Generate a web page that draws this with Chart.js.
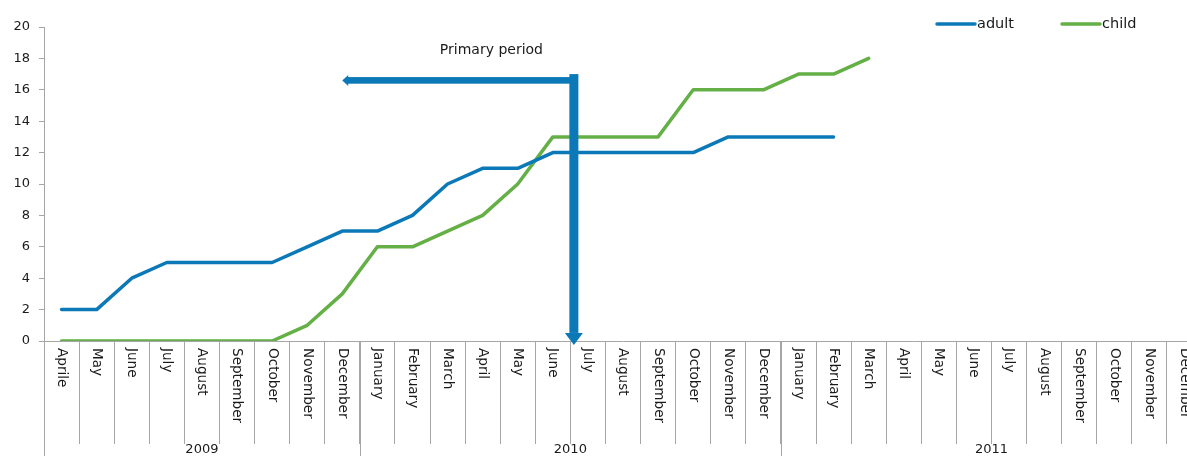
<!DOCTYPE html>
<html>
<head>
<meta charset="utf-8">
<style>
  html, body { margin: 0; padding: 0; overflow: hidden; background: #fff; }
  #wrap { position: relative; width: 1202px; height: 456px; }
</style>
</head>
<body>
<div id="wrap"><canvas id="myChart"></canvas></div>

<script src="https://cdn.jsdelivr.net/npm/chart.js@4.4.0/dist/chart.umd.min.js"></script>
<script>
    // month categories, April 2009 to December 2011
    const months = [
        'Aprile', 'May', 'June', 'July', 'August', 'September', 'October', 'November', 'December',
        'January', 'February', 'March', 'April', 'May', 'June', 'July', 'August', 'September', 'October', 'November', 'December',
        'January', 'February', 'March', 'April', 'May', 'June', 'July', 'August', 'September', 'October', 'November', 'December'
    ];
    const years = ['2009', '2010', '2011'];
    const monthsPerYear = [9, 12, 12];

    // cumulative counts
    const adult = [2, 2, 4, 5, 5, 5, 5, 6, 7, 7, 8, 10, 11, 11, 12, 12, 12, 12, 12, 13, 13, 13, 13];
    const child = [0, 0, 0, 0, 0, 0, 0, 1, 3, 6, 6, 7, 8, 10, 13, 13, 13, 13, 16, 16, 16, 17, 17, 18];

    // primary period marker (x in month index, y in count units)
    const periodLabel = 'Primary period';
    const periodFrom = 8;       // December 2009
    const periodTo = 14.6;      // end of June 2010
    const periodLevel = 16.6;
    const periodTop = 17.0;
    const periodBottom = -0.25;
    const periodLabelPos = [12.25, 18.5];

    const blue = '#0b79b8';
    const green = '#64b046';
    const axisGrey = '#a6a6a6';
    const textColor = '#1a1a1a';
    const fontFamily = '"DejaVu Sans", Verdana, sans-serif';

    const decorations = {
        id: 'decorations',
        afterDatasetsDraw(chart) {
            const {ctx, scales: {x, y}} = chart;
            const xl = x.getPixelForValue(periodTo);
            const xr = x.getPixelForValue(periodFrom);
            const yl = y.getPixelForValue(periodLevel);
            const yt = y.getPixelForValue(periodTop);
            const yb = y.getPixelForValue(periodBottom);

            ctx.save();
            ctx.fillStyle = blue;
            // horizontal arrow pointing left
            ctx.fillRect(xr + 5, yl - 3.3, xl - xr - 5, 6.6);
            ctx.beginPath();
            ctx.moveTo(xr, yl);
            ctx.lineTo(xr + 6, yl - 5.5);
            ctx.lineTo(xr + 6, yl + 5.5);
            ctx.closePath();
            ctx.fill();
            // vertical arrow pointing down
            ctx.fillRect(xl - 4.5, yt, 9, yb - yt - 12);
            ctx.beginPath();
            ctx.moveTo(xl - 9, yb - 12);
            ctx.lineTo(xl + 9, yb - 12);
            ctx.lineTo(xl, yb);
            ctx.closePath();
            ctx.fill();

            ctx.fillStyle = textColor;
            ctx.font = '14px ' + fontFamily;
            ctx.textAlign = 'center';
            ctx.textBaseline = 'middle';
            ctx.fillText(periodLabel, x.getPixelForValue(periodLabelPos[0]), y.getPixelForValue(periodLabelPos[1]));
            ctx.restore();
        },
        afterDraw(chart) {
            const {ctx, scales: {x, y}} = chart;
            const axisY = y.getPixelForValue(0);
            ctx.save();

            // month names, reading downwards
            ctx.fillStyle = textColor;
            ctx.font = '13.6px ' + fontFamily;
            ctx.textAlign = 'left';
            ctx.textBaseline = 'middle';
            months.forEach((m, i) => {
                ctx.save();
                ctx.translate(x.getPixelForValue(i), axisY + 7);
                ctx.rotate(Math.PI / 2);
                ctx.fillText(m, 0, 0);
                ctx.restore();
            });

            // year separators and year names
            ctx.strokeStyle = axisGrey;
            ctx.lineWidth = 1;
            ctx.font = '13px ' + fontFamily;
            ctx.textAlign = 'center';
            let start = 0;
            years.forEach((yr, i) => {
                const end = start + monthsPerYear[i];
                const xs = Math.round(x.getPixelForValue(start - 0.5)) + 0.5;
                ctx.beginPath();
                ctx.moveTo(xs, axisY);
                ctx.lineTo(xs, chart.height);
                ctx.stroke();
                ctx.fillText(yr, x.getPixelForValue((start + end - 1) / 2), axisY + 109);
                start = end;
            });

            // legend
            const legendX = [937, 1062];
            ctx.font = '14.5px ' + fontFamily;
            ctx.textAlign = 'left';
            chart.data.datasets.forEach((ds, i) => {
                ctx.strokeStyle = ds.borderColor;
                ctx.lineWidth = 3.5;
                ctx.lineCap = 'round';
                ctx.beginPath();
                ctx.moveTo(legendX[i], 24);
                ctx.lineTo(legendX[i] + 38, 24);
                ctx.stroke();
                ctx.fillStyle = textColor;
                ctx.fillText(ds.label, legendX[i] + 40, 24);
            });
            ctx.restore();
        }
    };

    const chart = new Chart(document.getElementById('myChart'), {
        type: 'line',
        plugins: [decorations],
        data: {
            labels: months,
            datasets: [
                {
                    label: 'adult',
                    data: adult,
                    borderColor: blue,
                    backgroundColor: blue,
                    borderWidth: 3.5,
                    pointRadius: 0,
                    borderCapStyle: 'round',
                    borderJoinStyle: 'round'
                },
                {
                    label: 'child',
                    data: child,
                    borderColor: green,
                    backgroundColor: green,
                    borderWidth: 3.5,
                    pointRadius: 0,
                    borderCapStyle: 'round',
                    borderJoinStyle: 'round'
                }
            ]
        },
        options: {
            responsive: true,
            maintainAspectRatio: false,
            animation: false,
            layout: {
                padding: { top: 27, left: 0, right: 0, bottom: 0 }
            },
            plugins: {
                legend: { display: false },
                tooltip: { enabled: false }
            },
            scales: {
                x: {
                    offset: true,
                    grid: {
                        offset: true,
                        drawOnChartArea: false,
                        drawTicks: true,
                        tickLength: 103,
                        color: axisGrey
                    },
                    border: { display: true, color: axisGrey },
                    ticks: { display: false },
                    afterFit: (scale) => { scale.height = 115; }
                },
                y: {
                    min: 0,
                    max: 20,
                    grid: {
                        drawOnChartArea: false,
                        drawTicks: true,
                        tickLength: 5,
                        color: axisGrey
                    },
                    border: { display: true, color: axisGrey },
                    ticks: {
                        stepSize: 2,
                        padding: 9,
                        color: textColor,
                        font: { family: fontFamily, size: 13 }
                    },
                    afterFit: (scale) => { scale.width = 44; }
                }
            }
        }
    });
</script>
</body>
</html>
